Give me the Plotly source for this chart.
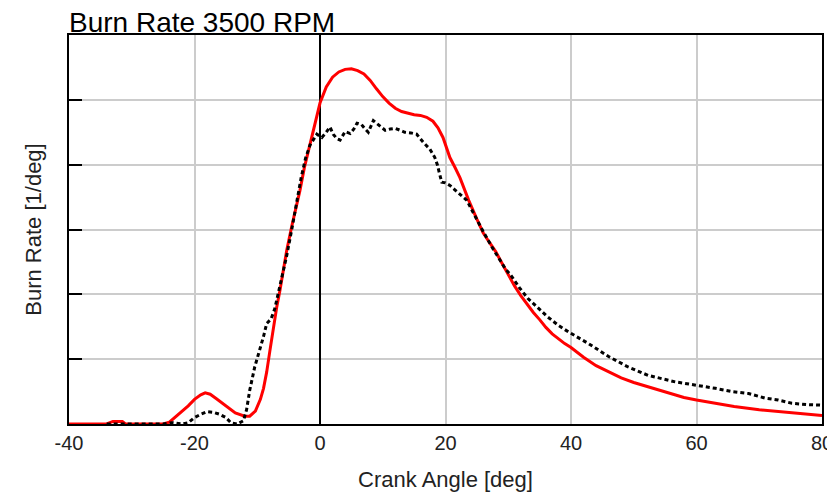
import plotly.graph_objects as go

# ---- data ----
red_x = [-40, -34, -33, -31.5, -31, -25, -24, -22.5, -21, -20, -19, -18.3, -17.5, -16.5, -15, -13.5, -12, -11.2,
         -10.3, -9.5, -9.0, -8.5, -8.0, -7.4, -6.9, -6.4, -5.3, -4.5, -3.7, -3.2, -2.5, -1.6, -0.8, 0, 1, 2, 3, 4,
         5, 6, 7, 8, 9, 10, 11, 12, 13, 14, 15, 16, 17, 18, 18.8, 19.6, 20.7, 21.5, 22.3, 23.1, 23.7, 25, 26, 27,
         28, 29, 30, 31, 32, 33, 34, 35, 36, 37, 38, 39, 40, 42, 44, 46, 48, 50, 52, 55, 58, 60, 63, 66, 70, 73,
         76, 80]
red_y = [0, 0, 0.04, 0.04, 0, 0, 0.03, 0.15, 0.28, 0.38, 0.45, 0.48, 0.46, 0.39, 0.28, 0.17, 0.12, 0.12,
         0.2, 0.38, 0.55, 0.8, 1.12, 1.5, 1.8, 2.05, 2.68, 3.05, 3.38, 3.6, 3.95, 4.32, 4.65, 4.95, 5.2, 5.35, 5.43, 5.47,
         5.48, 5.45, 5.4, 5.3, 5.17, 5.05, 4.95, 4.87, 4.82, 4.79, 4.77, 4.76, 4.73, 4.67, 4.57, 4.42, 4.11, 3.96, 3.8, 3.6, 3.45, 3.16, 2.95, 2.8,
         2.66, 2.48, 2.3, 2.13, 1.98, 1.85, 1.72, 1.61, 1.49, 1.39, 1.31, 1.24, 1.18, 1.03, 0.9, 0.8, 0.71, 0.64, 0.58, 0.49, 0.41, 0.37, 0.32, 0.27, 0.22, 0.19,
         0.16, 0.13]

meas_x = [-34, -25, -23.5, -22, -21, -20, -19, -18, -17, -16, -15, -14.2, -13.2, -12.2, -11.7, -11.2, -10.4, -9.6,
          -9.0, -8.5, -7.8, -7.2, -6.4, -5.3, -4.5, -3.7, -3.0, -2.3, -1.6, -0.5, 0.3, 1.0, 1.6, 2.1, 2.7, 3.2, 4.0,
          4.8, 5.4, 5.9, 6.6, 7.2, 7.7, 8.5, 9.0, 9.6, 10.4, 11.2, 12.0, 12.8, 13.5, 14.5, 15.4, 16.5, 17.5, 18.3,
          18.7, 19.0, 19.4, 20.0, 20.7, 21.4, 22.0, 22.7, 23.4, 24.2, 25, 26, 27.4, 28.5, 29.5, 30.6, 31.8, 33.1,
          34.8, 36.3, 38, 39.6, 42.8, 46.0, 49.1, 52.3, 56.6, 60.2, 63, 65.7, 68.3, 70.9, 73, 75.2, 77.5, 80]
meas_y = [0, 0, 0.02, 0.0, 0.02, 0.1, 0.15, 0.19, 0.18, 0.15, 0.1, 0.02, 0, 0.05, 0.22, 0.52, 0.88, 1.14,
          1.35, 1.55, 1.62, 1.78, 2.11, 2.6, 3.0, 3.45, 3.8, 4.1, 4.3, 4.47, 4.42, 4.5, 4.58, 4.47, 4.4, 4.38, 4.51,
          4.48, 4.55, 4.64, 4.62, 4.55, 4.5, 4.68, 4.64, 4.6, 4.53, 4.55, 4.56, 4.53, 4.5, 4.49, 4.47, 4.34, 4.24, 4.11,
          4.0, 3.88, 3.73, 3.72, 3.68, 3.62, 3.57, 3.5, 3.45, 3.3, 3.15, 2.97, 2.73, 2.55, 2.4, 2.27, 2.1, 1.94,
          1.78, 1.65, 1.52, 1.42, 1.24, 1.04, 0.88, 0.75, 0.65, 0.6, 0.55, 0.5, 0.47, 0.4, 0.37, 0.32, 0.3, 0.29]

x_ticks = [-40, -20, 0, 20, 40, 60, 80]
x_tick_text = ["-40", "-20", "0", "20", "40", "60", "80"]

FONT = "Liberation Sans, Arial, sans-serif"

# the page body has an 8px margin, so the figure is made 8px smaller and shifted accordingly
W, H = 827, 486

fig = go.Figure()
fig.add_trace(go.Scatter(x=red_x, y=red_y, mode="lines",
                         line=dict(color="#ff0000", width=3), showlegend=False))
fig.add_trace(go.Scatter(x=meas_x, y=meas_y, mode="lines",
                         line=dict(color="#000000", width=3, dash="4px,3px"), showlegend=False))

fig.update_layout(
    width=W, height=H,
    margin=dict(l=61, r=13, t=27, b=70),
    paper_bgcolor="white", plot_bgcolor="white",
    title=dict(text="Burn Rate 3500 RPM", x=61 / W, xanchor="left", xref="container",
               y=1 - 14 / H, yanchor="middle", yref="container",
               font=dict(family=FONT, size=28, color="black")),
    font=dict(family=FONT, color="#222"),
)
fig.update_xaxes(range=[-40, 80], tickvals=x_ticks, ticktext=x_tick_text, ticks="",
                 showgrid=True, gridcolor="#cccccc", gridwidth=1.5,
                 zeroline=True, zerolinecolor="black", zerolinewidth=1.5,
                 showline=True, linecolor="black", linewidth=1.5, mirror=True,
                 tickfont=dict(size=20, color="#222"), automargin=False,
                 title=dict(text="Crank Angle [deg]", font=dict(size=22, color="#222"), standoff=19))
fig.update_yaxes(range=[0, 6], dtick=1, ticks="inside", ticklen=13, tickcolor="black", tickwidth=1.5,
                 showticklabels=False, automargin=False,
                 showgrid=True, gridcolor="#cccccc", gridwidth=1.5, zeroline=False,
                 showline=True, linecolor="black", linewidth=1.5, mirror=True,
                 title=dict(text="Burn Rate [1/deg]", font=dict(size=22, color="#222"), standoff=20))

fig.write_html("out.html")
